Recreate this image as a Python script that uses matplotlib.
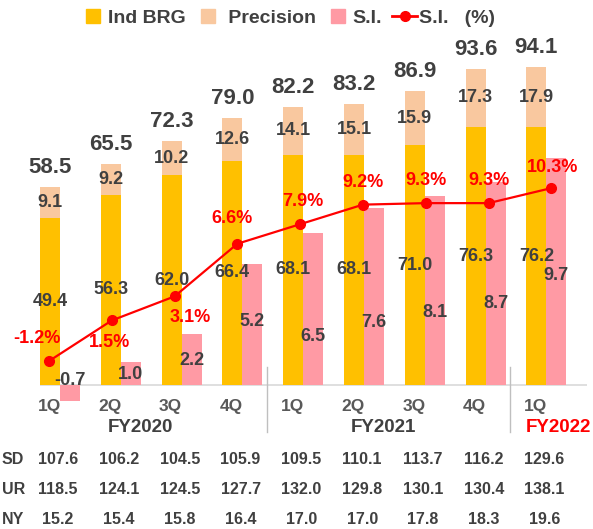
import matplotlib
matplotlib.use("Agg")
import matplotlib.pyplot as plt
from matplotlib.lines import Line2D
from matplotlib.transforms import blended_transform_factory

plt.rcParams['font.family'] = ['Liberation Sans', 'DejaVu Sans']
plt.rcParams['font.weight'] = 'bold'

# data
quarters = ['1Q', '2Q', '3Q', '4Q', '1Q', '2Q', '3Q', '4Q', '1Q']
fiscal_years = ['FY2020', 'FY2021', 'FY2022']
ind_brg = [49.4, 56.3, 62.0, 66.4, 68.1, 68.1, 71.0, 76.3, 76.2]
precision = [9.1, 9.2, 10.2, 12.6, 14.1, 15.1, 15.9, 17.3, 17.9]
totals = [58.5, 65.5, 72.3, 79.0, 82.2, 83.2, 86.9, 93.6, 94.1]
si = [-0.7, 1.0, 2.2, 5.2, 6.5, 7.6, 8.1, 8.7, 9.7]
si_pct = [-1.2, 1.5, 3.1, 6.6, 7.9, 9.2, 9.3, 9.3, 10.3]
row_names = ['SD', 'UR', 'NY']
row_sd = [107.6, 106.2, 104.5, 105.9, 109.5, 110.1, 113.7, 116.2, 129.6]
row_ur = [118.5, 124.1, 124.5, 127.7, 132.0, 129.8, 130.1, 130.4, 138.1]
row_ny = [15.2, 15.4, 15.8, 16.4, 17.0, 17.0, 17.8, 18.3, 19.6]

# layout (label placement)
si_label_y = [0.21, 0.47, 1.07, 2.7, 2.06, 2.66, 3.09, 3.5, 4.7]
pct_offsets = [(-9, 16), (-2, -16), (11, -15), (-4, 18), (2, 16), (0, 16), (0, 16), (0, 16), (1, 15)]

YELLOW = '#FFC000'
PEACH = '#F9C89F'
PINK = '#FF9AA4'
RED = '#FF0000'
DARK = '#404040'
GRAY = '#595959'

W, H = 593, 529
fig = plt.figure(figsize=(W / 100, H / 100), dpi=100)
pos = [40 / W, 124 / H, 547 / W, 365 / H]

ax = fig.add_axes(pos)
ax_si = fig.add_axes(pos, frameon=False)
ax_ln = fig.add_axes(pos, frameon=False)
for a in (ax, ax_si, ax_ln):
    a.set_xticks([])
    a.set_yticks([])
    for s in a.spines.values():
        s.set_visible(False)
    a.patch.set_alpha(0)

ax.set_xlim(-0.329, 8.668)
ax_si.set_xlim(-0.329, 8.668)
ax_ln.set_xlim(-0.143, 8.567)
ax.set_ylim(-5.917, 102.07)
ax_si.set_ylim(-0.857, 14.775)
ax_ln.set_ylim(-4.122, 20.146)

x = list(range(len(quarters)))
bw = 0.33
xy = [i - bw / 2 for i in x]
xp = [i + bw / 2 for i in x]

ax.axhline(0, color='#D9D9D9', lw=1.2, zorder=1)
ax.bar(xy, ind_brg, width=bw, color=YELLOW, zorder=2)
ax.bar(xy, precision, width=bw, bottom=ind_brg, color=PEACH, zorder=2)
ax_si.bar(xp, si, width=bw, color=PINK, zorder=2)
ax_ln.plot(x, si_pct, color=RED, lw=1.6, marker='o', ms=7, zorder=4)

# all value labels live on the top axes so no bar covers them
for i in x:
    ax_ln.text(xy[i], ind_brg[i] / 2, f'{ind_brg[i]:.1f}', transform=ax.transData,
               ha='center', va='center', fontsize=13, color=DARK, zorder=5)
    ax_ln.text(xy[i], ind_brg[i] + precision[i] / 2, f'{precision[i]:.1f}',
               transform=ax.transData, ha='center', va='center', fontsize=13,
               color=DARK, zorder=5)
    ax_ln.annotate(f'{totals[i]:.1f}', (xy[i], ind_brg[i] + precision[i]),
                   xycoords=ax.transData, xytext=(0, 14), textcoords='offset points',
                   ha='center', va='center', fontsize=16, color=DARK, zorder=5)
    ax_ln.text(xp[i], si_label_y[i], f'{si[i]:.1f}', transform=ax_si.transData,
               ha='center', va='center', fontsize=13, color=DARK, zorder=5)
    ax_ln.annotate(f'{si_pct[i]:.1f}%', (i, si_pct[i]), xytext=pct_offsets[i],
                   textcoords='offset points', ha='center', va='center',
                   fontsize=13, color=RED, zorder=6)

# category axis labels
tr = blended_transform_factory(ax.transData, fig.transFigure)
for i in x:
    ax.text(i - 0.18, 1 - 407 / H, quarters[i], transform=tr, ha='center', va='center',
            fontsize=12.5, color=GRAY)
fy_x = [1.5 - 0.18, 5.5 - 0.18, 8.2]
fy_col = [DARK, DARK, RED]
for name, fx, c in zip(fiscal_years, fy_x, fy_col):
    ax.text(fx, 1 - 428 / H, name, transform=tr, ha='center', va='center',
            fontsize=13.5, color=c)
for sx in (3.4, 7.4):
    fig.add_artist(Line2D([sx, sx], [1 - 367 / H, 1 - 432 / H], transform=tr,
                          color='#BFBFBF', lw=1))

# data table under the chart
rows = [row_sd, row_ur, row_ny]
row_y = [460, 490, 520]
for name, vals, ry in zip(row_names, rows, row_y):
    fig.text(2 / W, 1 - ry / H, name, ha='left', va='center', fontsize=11.5, color=DARK)
    for i in x:
        ax.text(i - 0.03, 1 - ry / H, f'{vals[i]:.1f}', transform=tr, ha='center',
                va='center', fontsize=11.5, color=DARK)

handles = [
    Line2D([], [], ls='none', marker='s', ms=9.5, color=YELLOW, label='Ind BRG'),
    Line2D([], [], ls='none', marker='s', ms=9.5, color=PEACH, label=' Precision'),
    Line2D([], [], ls='none', marker='s', ms=9.5, color=PINK, label='S.I.'),
    Line2D([], [], color=RED, lw=2, marker='o', ms=7, label='S.I.   (%)'),
]
fig.legend(handles=handles, loc='center', bbox_to_anchor=(288 / W, 1 - 18 / H),
           ncol=4, frameon=False, fontsize=14, handlelength=1.3,
           handletextpad=0.1, columnspacing=0.5, labelcolor=DARK)

fig.savefig('out.png', dpi=100)
